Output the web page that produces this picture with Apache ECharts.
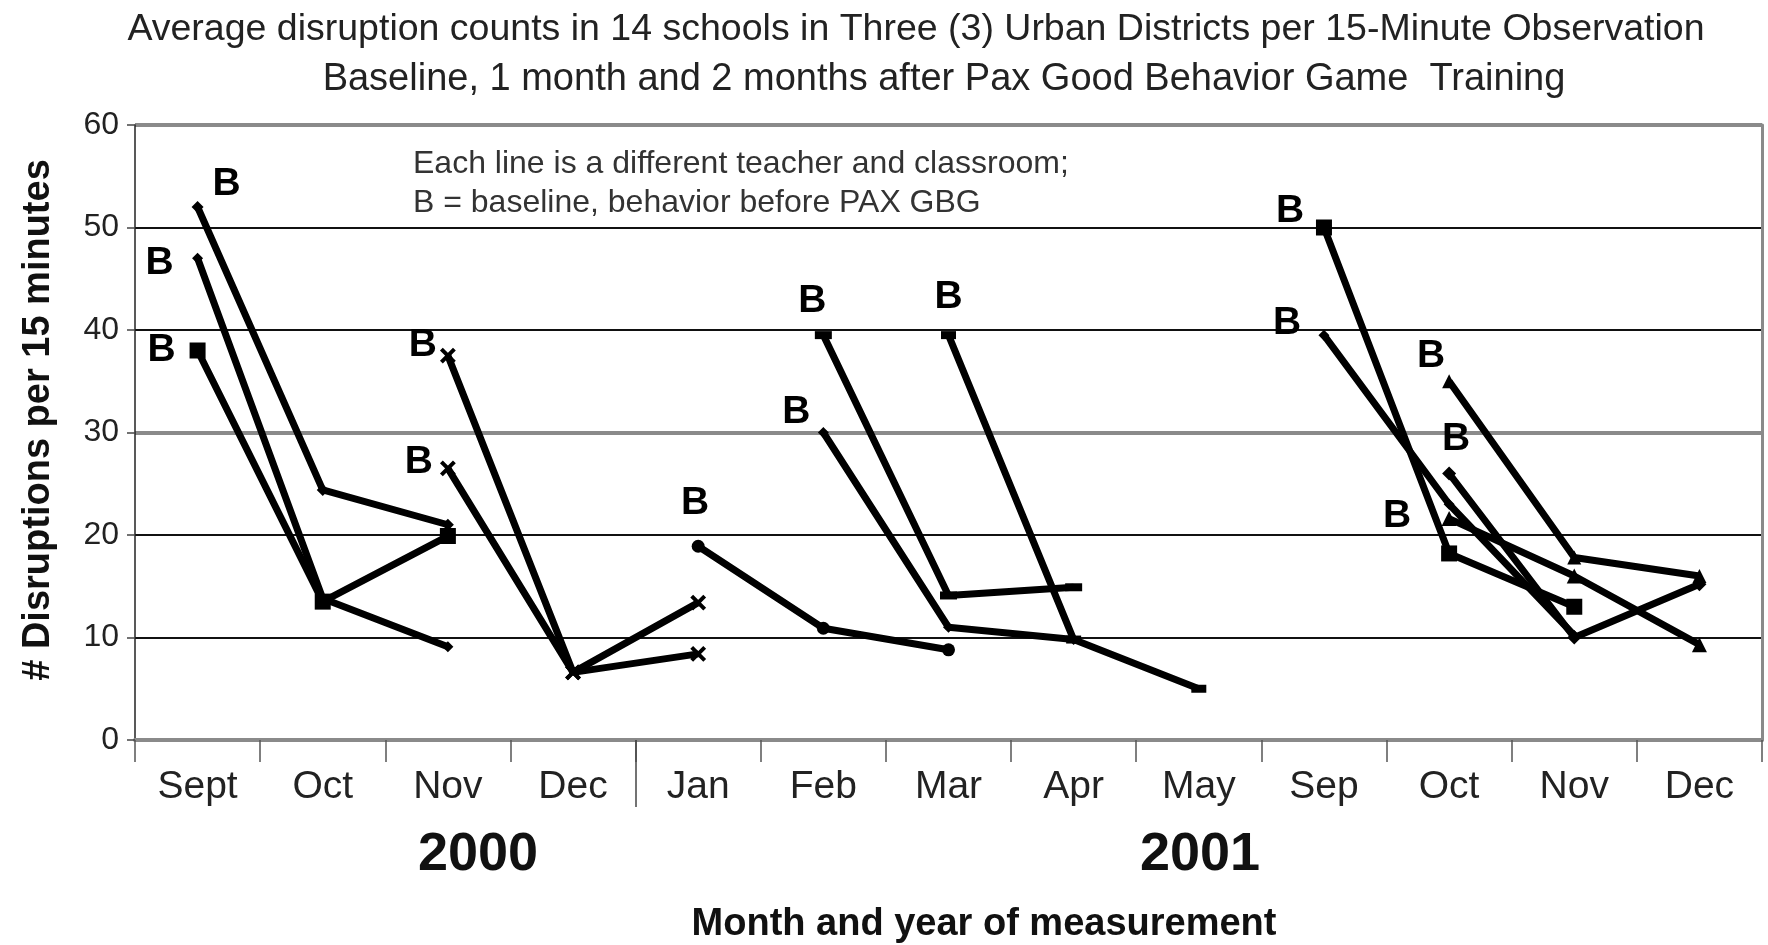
<!DOCTYPE html>
<html><head><meta charset="utf-8">
<script src="https://cdn.jsdelivr.net/npm/echarts@6/dist/echarts.min.js"></script>
<style>html,body{margin:0;padding:0;background:#fff}#c{width:1768px;height:945px}</style>
</head><body><div id="c"></div>
<script>
// ---------- data ----------
const months = ['Sept','Oct','Nov','Dec','Jan','Feb','Mar','Apr','May','Sep','Oct','Nov','Dec'];
const years = ['2000','2001'];
const yMin = 0, yMax = 60, yStep = 10;
const _ = null;
// one array per teacher / classroom (index = month category)
const t01 = [52,   24.4, 21,   _,   _,    _,    _,    _,   _,   _,    _,    _,    _];
const t02 = [47,   13.8, 9.1,  _,   _,    _,    _,    _,   _,   _,    _,    _,    _];
const t03 = [38,   13.5, 19.9, _,   _,    _,    _,    _,   _,   _,    _,    _,    _];
const t04 = [_,    _,    37.5, 6.6, 13.4, _,    _,    _,   _,   _,    _,    _,    _];
const t05 = [_,    _,    26.5, 6.6, 8.4,  _,    _,    _,   _,   _,    _,    _,    _];
const t06 = [_,    _,    _,    _,   18.9, 10.9, 8.8,  _,   _,   _,    _,    _,    _];
const t07 = [_,    _,    _,    _,   _,    30,   11,   9.8, _,   _,    _,    _,    _];
const t08 = [_,    _,    _,    _,   _,    39.5, 14.1, 14.9,_,   _,    _,    _,    _];
const t09 = [_,    _,    _,    _,   _,    _,    39.5, 9.8, 5,   _,    _,    _,    _];
const t10 = [_,    _,    _,    _,   _,    _,    _,    _,   _,   50,   18.2, 13,   _];
const t11 = [_,    _,    _,    _,   _,    _,    _,    _,   _,   39.5, 23,   10.2, _];
const t12 = [_,    _,    _,    _,   _,    _,    _,    _,   _,   _,    35,   17.8, 16];
const t13 = [_,    _,    _,    _,   _,    _,    _,    _,   _,   _,    26,   10,   15.2];
const t14 = [_,    _,    _,    _,   _,    _,    _,    _,   _,   _,    21.6, 16,   9.3];
const teachers = [t01,t02,t03,t04,t05,t06,t07,t08,t09,t10,t11,t12,t13,t14];

// ---------- styling (kept apart from data) ----------
const FONT = '"Liberation Sans", Arial, Helvetica, sans-serif';
const X_PATH = 'path://M0,0L10,10M10,0L0,10';
const symbols = ['diamond','diamond','rect',X_PATH,X_PATH,'circle','diamond','rect','rect','rect','diamond','triangle','diamond','triangle'];
const symbolSizes = [12,11,16,13,13,13,11,[17,8],[15,8],16,11,14,14,15];
// offset of each "B" baseline label from its first point (px)
const bOffsets = [[29,-23],[-38,5],[-36,0],[-25,-10],[-29,-6],[-3,-43],[-27,-20],[-11,-34],[0,-38],[-34,-16],[-37,-12],[-18,-25],[7,-34],[-52,-2]];

const series = teachers.map((arr, k) => {
  const first = arr.findIndex(v => v !== null);
  const data = arr.map((v, i) => i === first ? {
    value: v,
    label: {
      show: true, formatter: 'B', position: 'inside', offset: bOffsets[k],
      fontSize: 39, fontWeight: 'bold', color: '#000', fontFamily: FONT
    }
  } : v);
  const isX = symbols[k] === X_PATH;
  return {
    type: 'line', name: 'T' + (k + 1), data,
    symbol: symbols[k], symbolSize: symbolSizes[k], showSymbol: true,
    lineStyle: { color: '#000', width: 7 },
    itemStyle: { color: '#000', borderColor: '#000', borderWidth: isX ? 4 : 0 },
    emphasis: { disabled: true },
    animation: false, z: 3
  };
});

const chart = echarts.init(document.getElementById('c'), null, { renderer: 'canvas' });
chart.setOption({
  backgroundColor: '#fff',
  animation: false,
  grid: { left: 135, right: 6, top: 125, bottom: 205 },
  xAxis: [{
    type: 'category', data: months, boundaryGap: true,
    axisLine: { show: true, onZero: false, lineStyle: { color: '#8a8a8a', width: 4 } },
    axisTick: { show: true, interval: 0, length: 22, lineStyle: { color: '#555', width: 1.5 } },
    axisLabel: { interval: 0, margin: 28, fontSize: 39, color: '#222', fontFamily: FONT },
    splitLine: { show: false }
  }, {
    type: 'value', min: 0, max: months.length, position: 'bottom',
    axisLine: { show: false },
    axisTick: { show: true, customValues: [4], length: 67, lineStyle: { color: '#444', width: 1.5 } },
    axisLabel: { show: false },
    splitLine: { show: false }
  }],
  yAxis: [{
    type: 'value', min: yMin, max: yMax, interval: yStep,
    axisLine: { show: true, lineStyle: { color: '#222', width: 1.5 } },
    axisTick: { show: true, length: 8, lineStyle: { color: '#444', width: 1.5 } },
    axisLabel: { margin: 16, fontSize: 32, color: '#222', fontFamily: FONT },
    splitLine: { show: true, lineStyle: { color: '#111', width: 2 } }
  }, {
    type: 'value', min: yMin, max: yMax, interval: 30, position: 'right',
    axisLine: { show: true, lineStyle: { color: '#8a8a8a', width: 3 } },
    axisTick: { show: false }, axisLabel: { show: false },
    splitLine: { show: true, lineStyle: { color: '#8a8a8a', width: 4 } }
  }],
  graphic: [
    { type: 'text', style: { text: 'Average disruption counts in 14 schools in Three (3) Urban Districts per 15-Minute Observation', x: 916, y: 30, align: 'center', verticalAlign: 'middle', fontSize: 37.5, fontFamily: FONT, fill: '#222' } },
    { type: 'text', style: { text: 'Baseline, 1 month and 2 months after Pax Good Behavior Game  Training', x: 944, y: 80, align: 'center', verticalAlign: 'middle', fontSize: 38, fontFamily: FONT, fill: '#222' } },
    { type: 'text', z: 10, style: { text: 'Each line is a different teacher and classroom;', x: 413, y: 164, align: 'left', verticalAlign: 'middle', fontSize: 32, fontFamily: FONT, fill: '#333' } },
    { type: 'text', z: 10, style: { text: 'B = baseline, behavior before PAX GBG', x: 413, y: 203, align: 'left', verticalAlign: 'middle', fontSize: 32, fontFamily: FONT, fill: '#333' } },
    { type: 'text', style: { text: years[0], x: 478, y: 855, align: 'center', verticalAlign: 'middle', fontSize: 54, fontWeight: 'bold', fontFamily: FONT, fill: '#111' } },
    { type: 'text', style: { text: years[1], x: 1200, y: 855, align: 'center', verticalAlign: 'middle', fontSize: 54, fontWeight: 'bold', fontFamily: FONT, fill: '#111' } },
    { type: 'text', style: { text: 'Month and year of measurement', x: 984, y: 925, align: 'center', verticalAlign: 'middle', fontSize: 38, fontWeight: 'bold', fontFamily: FONT, fill: '#111' } },
    { type: 'text', x: 39, y: 420, rotation: Math.PI / 2, style: { text: '# Disruptions per 15 minutes', x: 0, y: 0, align: 'center', verticalAlign: 'middle', fontSize: 38, fontWeight: 'bold', fontFamily: FONT, fill: '#111' } }
  ],
  series
});
</script></body></html>
